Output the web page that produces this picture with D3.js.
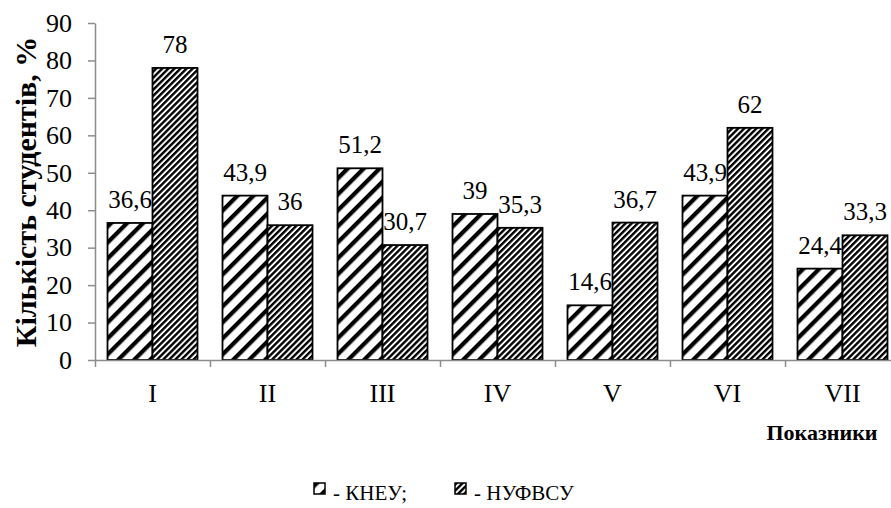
<!DOCTYPE html>
<html>
<head>
	<meta charset="utf-8">
	<title></title>
	<style>
		body { margin: 0; background: #fff; }
		text { font-family: "Liberation Serif", "Times New Roman", serif; }
	</style>
</head>
<body>
	<svg id="container" width="891" height="508"></svg>
</body>
<script src="https://d3js.org/d3.v7.min.js"></script>
<script>
	// data
	let categories = ["I", "II", "III", "IV", "V", "VI", "VII"]
	let seriesNames = ["КНЕУ", "НУФВСУ"]
	let kneu = [36.6, 43.9, 51.2, 39, 14.6, 43.9, 24.4]
	let nufvsu = [78, 36, 30.7, 35.3, 36.7, 62, 33.3]
	let yTicks = [0, 10, 20, 30, 40, 50, 60, 70, 80, 90]

	let svg = d3.select("#container")
	let axisColor = "#8c8c8c"
	let fmt = v => String(v).replace(".", ",")

	// hatch patterns (wide upward diagonal / dark upward diagonal)
	let defs = svg.append("defs")
	function hatch(id, period, thick) {
		let p = defs.append("pattern")
			.attr("id", id)
			.attr("patternUnits", "userSpaceOnUse")
			.attr("width", period)
			.attr("height", period)
			.attr("patternTransform", "rotate(45)")
		p.append("rect").attr("width", period).attr("height", period).attr("fill", "#fff")
		p.append("rect").attr("width", thick).attr("height", period).attr("fill", "#000")
	}
	hatch("wide", 11.3, 4.2)
	hatch("dense", 4.3, 2.4)
	let fills = ["url(#wide)", "url(#dense)"]

	let x0 = d3.scaleBand()
		.domain(categories)
		.range([95, 900])
		.paddingInner(25 / 115)
		.paddingOuter(12.5 / 115)

	let x1 = d3.scaleBand()
		.domain(seriesNames)
		.range([0, x0.bandwidth()])

	let y = d3.scaleLinear()
		.domain([0, 90])
		.range([360, 23])

	let rows = categories.map((c, i) => ({ cat: c, vals: [kneu[i], nufvsu[i]] }))

	// bars
	let group = svg.selectAll("g.cat")
		.data(rows)
		.enter()
		.append("g")
			.attr("class", "cat")
			.attr("transform", d => `translate(${x0(d.cat)},0)`)

	group.selectAll("rect")
		.data(d => d.vals.map((v, k) => ({ name: seriesNames[k], v: v, k: k })))
		.enter()
		.append("rect")
			.attr("x", d => x1(d.name))
			.attr("y", d => y(d.v))
			.attr("width", x1.bandwidth())
			.attr("height", d => y(0) - y(d.v))
			.attr("fill", d => fills[d.k])
			.attr("stroke", "#000")
			.attr("stroke-width", 1.8)

	group.selectAll("text.val")
		.data(d => d.vals.map((v, k) => ({ name: seriesNames[k], v: v })))
		.enter()
		.append("text")
			.attr("class", "val")
			.attr("x", d => x1(d.name) + x1.bandwidth() / 2)
			.attr("y", d => y(d.v) - 15)
			.attr("text-anchor", "middle")
			.attr("font-size", 25)
			.text(d => fmt(d.v))

	// y axis
	let yAxis = svg.append("g")
		.attr("transform", "translate(95,0)")
		.call(d3.axisLeft(y).tickValues(yTicks).tickSize(7).tickSizeOuter(0).tickPadding(16))
	yAxis.select(".domain").attr("stroke", axisColor).attr("stroke-width", 1.5)
	yAxis.selectAll(".tick line").attr("stroke", axisColor).attr("stroke-width", 1.5)
	yAxis.selectAll(".tick text")
		.attr("font-size", 26)
		.attr("fill", "#000")

	// x axis: line with boundary ticks, labels under bands
	let xb = d3.scaleLinear().domain([0, categories.length]).range([95, 900])
	let xAxis = svg.append("g")
		.attr("transform", `translate(0,${y(0)})`)
		.call(d3.axisBottom(xb).tickValues(d3.range(categories.length + 1)).tickFormat("").tickSize(7).tickSizeOuter(0))
	xAxis.select(".domain").attr("stroke", axisColor).attr("stroke-width", 1.5)
	xAxis.selectAll(".tick line").attr("stroke", axisColor).attr("stroke-width", 1.5)

	svg.append("g")
		.selectAll("text")
		.data(categories)
		.enter()
		.append("text")
			.attr("x", d => x0(d) + x0.bandwidth() / 2)
			.attr("y", 402)
			.attr("text-anchor", "middle")
			.attr("font-size", 26)
			.text(d => d)

	// axis titles
	svg.append("text")
		.attr("transform", "translate(36,192) rotate(-90)")
		.attr("text-anchor", "middle")
		.attr("font-size", 30)
		.attr("font-weight", "bold")
		.text("Кількість студентів, %")

	svg.append("text")
		.attr("x", 822)
		.attr("y", 440)
		.attr("text-anchor", "middle")
		.attr("font-size", 22)
		.attr("font-weight", "bold")
		.text("Показники")

	// legend
	let legendX = [314, 455]
	let legendLabels = ["- КНЕУ;", "- НУФВСУ"]
	let legend = svg.selectAll("g.leg")
		.data(seriesNames)
		.enter()
		.append("g")
			.attr("class", "leg")
			.attr("transform", (d, i) => `translate(${legendX[i]},483)`)
	legend.append("rect")
		.attr("width", 11)
		.attr("height", 11)
		.attr("fill", (d, i) => fills[i])
		.attr("stroke", "#000")
		.attr("stroke-width", 1.5)
	legend.append("text")
		.attr("x", 19)
		.attr("y", 17)
		.attr("font-size", 21)
		.text((d, i) => legendLabels[i])
</script>
</html>
